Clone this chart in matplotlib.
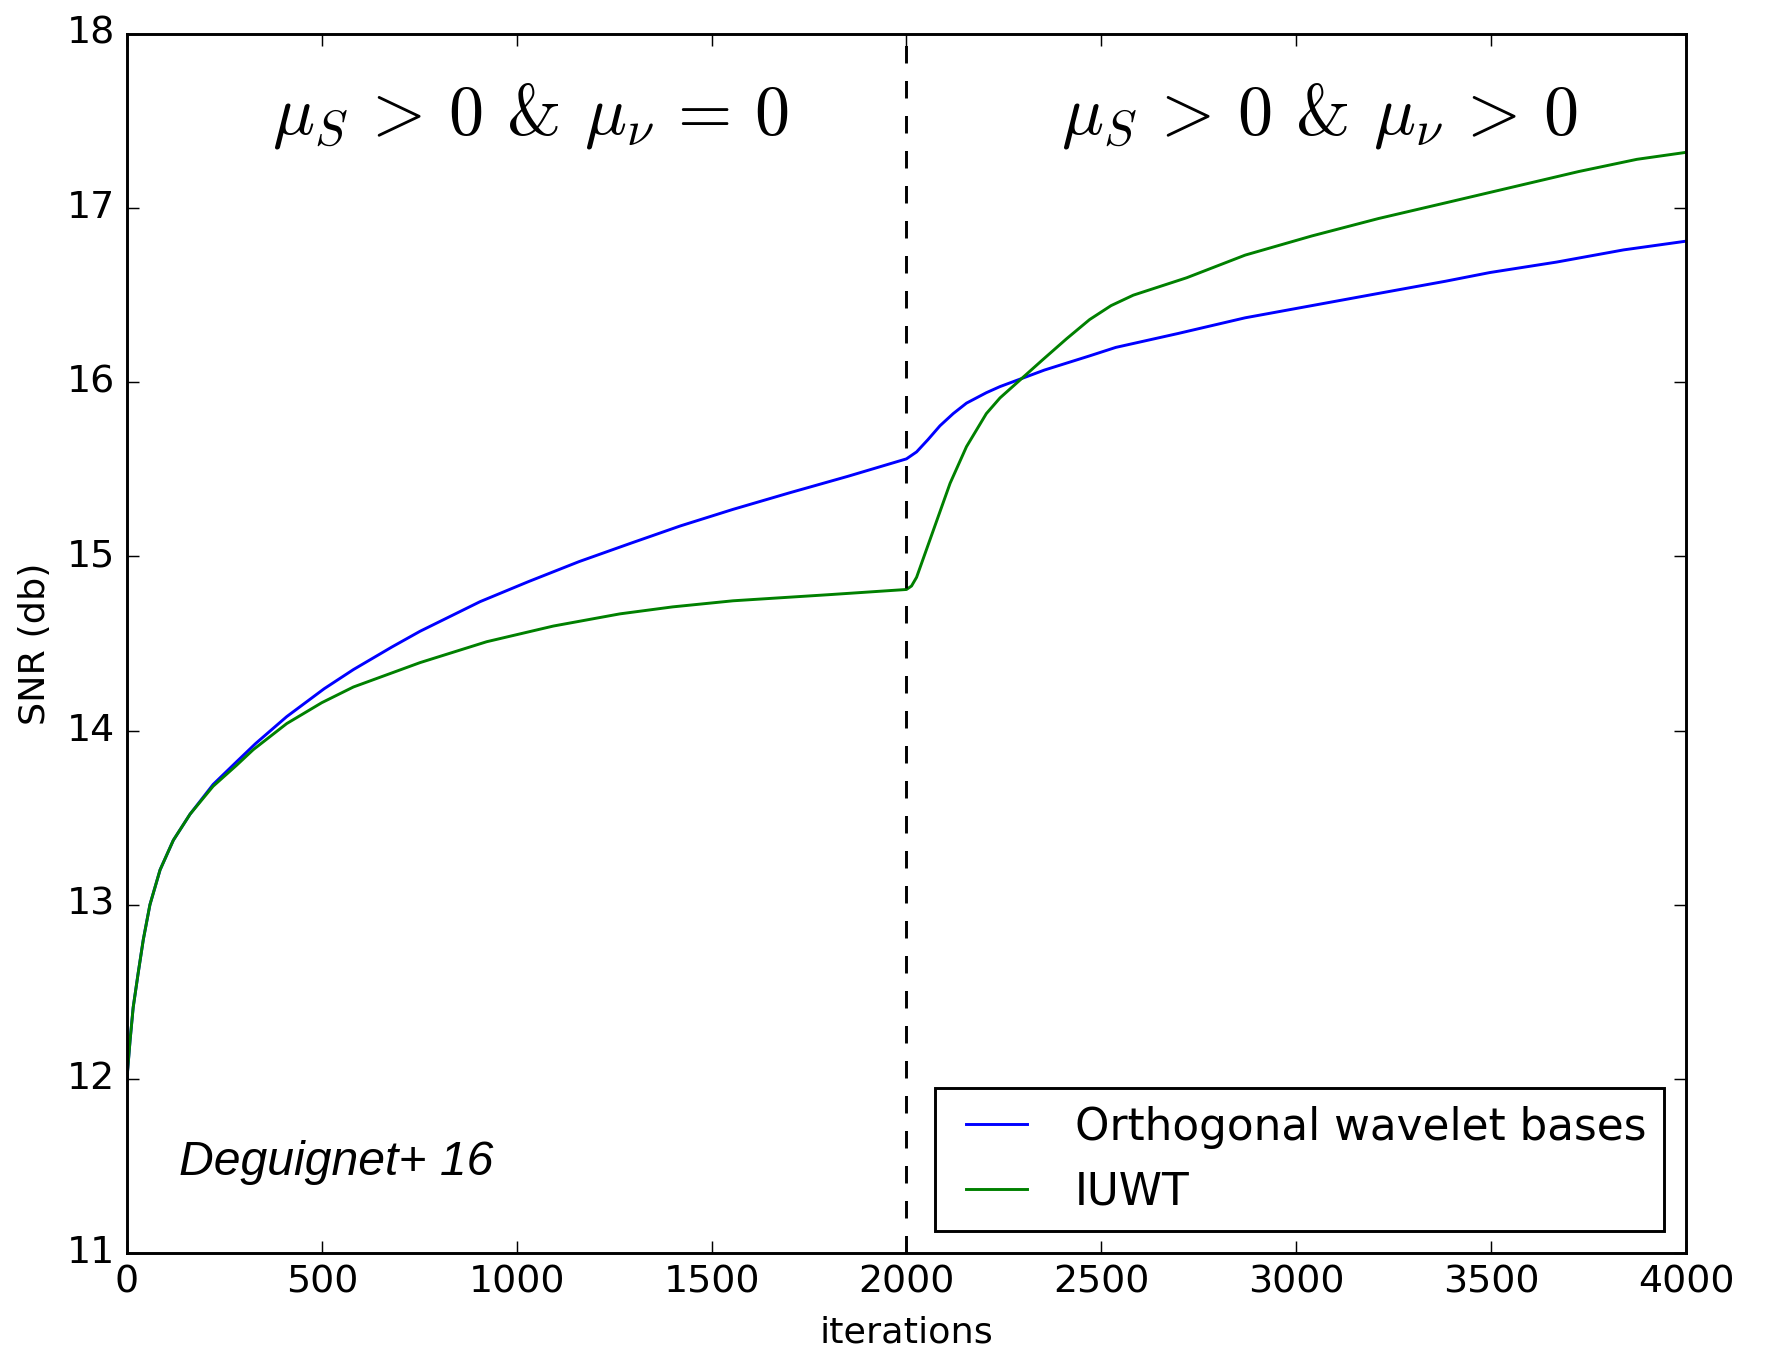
import matplotlib
matplotlib.use("Agg")
import matplotlib.pyplot as plt

plt.style.use("classic")

# SNR curves (dB) vs iteration count
iter_ortho = [0, 8, 16, 29, 42, 59, 85, 119, 162, 221, 281, 330, 410, 506, 581, 680,
              752, 906, 1030, 1160, 1292, 1420, 1555, 1700, 1850, 2000, 2026, 2055,
              2086, 2120, 2154, 2205, 2240, 2282, 2354, 2468, 2537, 2697, 2869, 3040,
              3211, 3383, 3497, 3668, 3840, 4000]
snr_ortho = [12.00, 12.22, 12.41, 12.61, 12.80, 13.00, 13.20, 13.37, 13.52, 13.69, 13.82,
             13.925, 14.08, 14.24, 14.35, 14.48, 14.57, 14.74, 14.855, 14.97, 15.075, 15.175,
             15.27, 15.365, 15.46, 15.56, 15.60, 15.67, 15.75, 15.82, 15.88, 15.94, 15.975,
             16.01, 16.07, 16.15, 16.20, 16.28, 16.37, 16.44, 16.51, 16.58, 16.63, 16.69,
             16.76, 16.81]

iter_iuwt = [0, 8, 16, 29, 42, 59, 85, 119, 162, 221, 281, 324, 410, 500, 581, 752, 923,
             1094, 1265, 1400, 1555, 1800, 2000, 2013, 2026, 2069, 2112, 2154, 2205, 2240,
             2290, 2350, 2411, 2470, 2525, 2582, 2719, 2869, 3040, 3211, 3383, 3554, 3725,
             3874, 4000]
snr_iuwt = [12.00, 12.22, 12.41, 12.61, 12.80, 13.00, 13.20, 13.37, 13.52, 13.68, 13.80,
            13.89, 14.04, 14.16, 14.25, 14.39, 14.51, 14.60, 14.67, 14.71, 14.745, 14.78,
            14.81, 14.83, 14.88, 15.15, 15.42, 15.63, 15.82, 15.91, 16.01, 16.13, 16.25,
            16.36, 16.44, 16.50, 16.60, 16.73, 16.84, 16.94, 17.03, 17.12, 17.21, 17.28,
            17.32]

switch_iter = 2000
phase_labels = [r"$\mu_S\,>\,0$ & $\mu_\nu\,=\,0$", r"$\mu_S\,>\,0$ & $\mu_\nu\,>\,0$"]
phase_x = [1034, 3059]

dpi = 210
fig = plt.figure(figsize=(1768 / dpi, 1347 / dpi), dpi=dpi, facecolor="white")
ax = fig.add_axes([0.0718, 0.0698, 0.9536 - 0.0718, 0.9748 - 0.0698])

ax.plot(iter_ortho, snr_ortho, "b-", label="Orthogonal wavelet bases")
ax.plot(iter_iuwt, snr_iuwt, "g-", label="IUWT")
ax.axvline(switch_iter, color="k", linestyle="--")

for xp, lab in zip(phase_x, phase_labels):
    ax.text(xp, 17.53, lab, fontsize=24, family="cmr10", ha="center", va="center")

ax.text(133, 11.45, "Deguignet+ 16", fontsize=16.5, style="italic",
        family="Liberation Sans", ha="left", va="baseline")

ax.set_xlim(0, 4000)
ax.set_ylim(11, 18)
ax.tick_params(labelsize=13)
ax.set_xlabel("iterations", fontsize=12.5)
ax.set_ylabel("SNR (db)", fontsize=12.5)
ax.legend(loc="lower right", fontsize=15)

fig.savefig("out.png", dpi=dpi, facecolor="white")
